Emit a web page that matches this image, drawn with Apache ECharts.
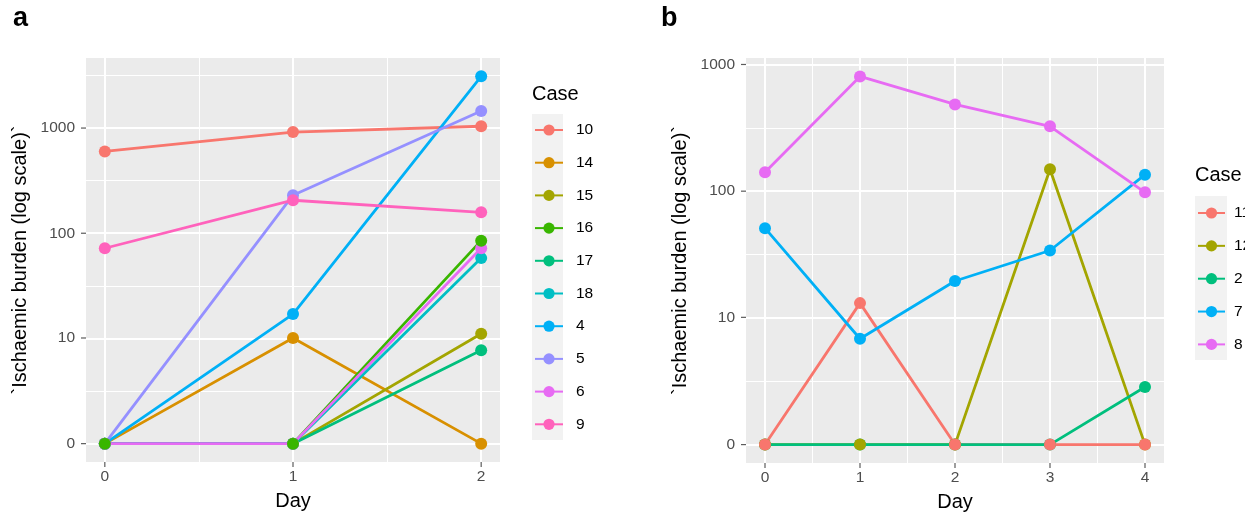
<!DOCTYPE html>
<html><head><meta charset="utf-8">
<script src="https://cdn.jsdelivr.net/npm/echarts@6/dist/echarts.min.js"></script>
<style>html,body{margin:0;padding:0;background:#fff}#c{width:1245px;height:519px}</style>
</head><body><div id="c"></div>
<script>
// ---- Panel a data ----
const daysA = [0, 1, 2];
const casesA = ['10', '14', '15', '16', '17', '18', '4', '5', '6', '9'];
const colorsA = ['#F8766D', '#D89000', '#A3A500', '#39B600', '#00BF7D', '#00BFC4', '#00B0F6', '#9590FF', '#E76BF3', '#FF62BC'];
const a10 = [600, 915, 1040];
const a14 = [0, 10, 0];
const a15 = [0, 0, 11];
const a16 = [0, 0, 85];
const a17 = [0, 0, 7.6];
const a18 = [0, 0, 58];
const a4  = [0, 17, 3100];
const a5  = [0, 230, 1450];
const a6  = [0, 0, 72];
const a9  = [72, 206, 158];
const valuesA = [a10, a14, a15, a16, a17, a18, a4, a5, a6, a9];
const lineOrderA  = ['10', '14', '15', '16', '17', '18', '4', '5', '9', '6'];
const pointOrderA = ['10', '14', '15', '17', '18', '4', '5', '6', '9', '16'];

// ---- Panel b data ----
const daysB = [0, 1, 2, 3, 4];
const casesB = ['11', '12', '2', '7', '8'];
const colorsB = ['#F8766D', '#A3A500', '#00BF7D', '#00B0F6', '#E76BF3'];
const b11 = [0, 13, 0, 0, 0];
const b12 = [0, 0, 0, 149, 0];
const b2  = [0, 0, 0, 0, 2.5];
const b7  = [51, 6.7, 19.5, 34, 135];
const b8  = [141, 805, 484, 325, 98];
const valuesB = [b11, b12, b2, b7, b8];
const lineOrderB  = ['11', '12', '7', '8', '2'];
const pointOrderB = ['2', '12', '7', '8', '11'];

// ---- axis ticks ----
const yTickValues = [0, 10, 100, 1000];
const yTickLabels = ['0', '10', '100', '1000'];
const xLabelName = 'Day';
const yLabelName = '`Ischaemic burden (log scale)`';

// pseudo-log scale (ggplot pseudo_log_trans, sigma = 1, base 10)
const pl = v => Math.asinh(v / 2) / Math.LN10;

const FONT = 'Liberation Sans, Arial, Helvetica, sans-serif';
const yTickT = yTickValues.map(pl);
const TICK_LEN = 5, TICK_W = 1.2, TICK_C = '#333333';

function yLabel(v) {
  let best = 0, bd = Infinity;
  yTickT.forEach((t, i) => { const d = Math.abs(t - v); if (d < bd) { bd = d; best = i; } });
  return yTickLabels[best];
}

function buildPanel(gi, days, cases, colors, values, lineOrder, pointOrder) {
  const xmin = Math.min(...days), xmax = Math.max(...days);
  const xe = (xmax - xmin) * 0.05;
  const xlo = xmin - xe, xhi = xmax + xe;
  let tmax = -Infinity, tmin = Infinity;
  values.forEach(arr => arr.forEach(v => { const t = pl(v); tmax = Math.max(tmax, t); tmin = Math.min(tmin, t); }));
  const ye = (tmax - tmin) * 0.05;
  const ylo = tmin - ye, yhi = tmax + ye;

  const xAxis = {
    gridIndex: gi, type: 'value', min: xlo, max: xhi,
    axisLine: { show: false }, splitLine: { show: false }, axisTick: { show: false },
    axisLabel: { customValues: days, margin: 7, color: '#4D4D4D', fontSize: 15.5, fontFamily: FONT, formatter: v => String(Math.round(v)) },
    name: xLabelName, nameLocation: 'middle', nameGap: 29,
    nameTextStyle: { color: '#000', fontSize: 20, fontFamily: FONT }
  };
  const yAxis = {
    gridIndex: gi, type: 'value', min: ylo, max: yhi,
    axisLine: { show: false }, splitLine: { show: false }, axisTick: { show: false },
    axisLabel: { customValues: yTickT, margin: 11, color: '#4D4D4D', fontSize: 15.5, fontFamily: FONT, formatter: v => yLabel(v) },
    name: yLabelName, nameLocation: 'middle', nameGap: 56,
    nameTextStyle: { color: '#000', fontSize: 20, fontFamily: FONT }
  };

  // grid lines (major at ticks, minor at midpoints in transformed space)
  const ml = [];
  const majorT = yTickT.filter(t => t >= ylo && t <= yhi);
  const minorT = [];
  for (let i = 0; i < yTickT.length; i++) {
    const next = i + 1 < yTickT.length ? yTickT[i + 1] : yTickT[i] + (yTickT[i] - yTickT[i - 1]);
    const prev = i > 0 ? yTickT[i - 1] : yTickT[0] - (yTickT[1] - yTickT[0]);
    if (i === 0) minorT.push((prev + yTickT[0]) / 2);
    minorT.push((yTickT[i] + next) / 2);
  }
  minorT.filter(t => t > ylo && t < yhi).forEach(t => ml.push({ yAxis: t, lineStyle: { color: '#fff', width: 1, type: 'solid' } }));
  majorT.forEach(t => ml.push({ yAxis: t, lineStyle: { color: '#fff', width: 2, type: 'solid' } }));
  for (let i = 0; i < days.length - 1; i++) {
    ml.push({ xAxis: (days[i] + days[i + 1]) / 2, lineStyle: { color: '#fff', width: 1, type: 'solid' } });
  }
  days.forEach(d => ml.push({ xAxis: d, lineStyle: { color: '#fff', width: 2, type: 'solid' } }));

  const series = [{
    type: 'line', xAxisIndex: gi, yAxisIndex: gi, data: [], z: 1, silent: true,
    markLine: { z: 1, silent: true, symbol: ['none', 'none'], animation: false, label: { show: false },
      emphasis: { disabled: true }, data: ml }
  }, {
    // x-axis tick marks, placed through the axes at the tick values
    type: 'scatter', xAxisIndex: gi, yAxisIndex: gi, silent: true, clip: false, z: 1,
    symbol: 'rect', symbolSize: [TICK_W, TICK_LEN], symbolOffset: [0, TICK_LEN / 2],
    itemStyle: { color: TICK_C }, data: days.map(d => [d, ylo])
  }, {
    // y-axis tick marks
    type: 'scatter', xAxisIndex: gi, yAxisIndex: gi, silent: true, clip: false, z: 1,
    symbol: 'rect', symbolSize: [TICK_LEN, TICK_W], symbolOffset: [-TICK_LEN / 2, 0],
    itemStyle: { color: TICK_C }, data: yTickT.map(t => [xlo, t])
  }];
  lineOrder.forEach(name => {
    const k = cases.indexOf(name);
    series.push({
      name, type: 'line', xAxisIndex: gi, yAxisIndex: gi, z: 2, symbol: 'none',
      color: colors[k], lineStyle: { width: 2.8, color: colors[k] }, itemStyle: { color: colors[k] },
      data: days.map((d, i) => [d, pl(values[k][i])]), animation: false
    });
  });
  pointOrder.forEach(name => {
    const k = cases.indexOf(name);
    series.push({
      name, type: 'scatter', xAxisIndex: gi, yAxisIndex: gi, z: 3, symbol: 'circle', symbolSize: 12,
      itemStyle: { color: colors[k], opacity: 1 },
      data: days.map((d, i) => [d, pl(values[k][i])]), animation: false
    });
  });
  return { xAxis, yAxis, series };
}

const pA = buildPanel(0, daysA, casesA, colorsA, valuesA, lineOrderA, pointOrderA);
const pB = buildPanel(1, daysB, casesB, colorsB, valuesB, lineOrderB, pointOrderB);

const legendText = { color: '#000', fontSize: 15.5, fontFamily: FONT };

const option = {
  animation: false,
  title: [
    { text: 'a', left: 13, top: 5, padding: 0, textStyle: { fontSize: 27, fontWeight: 'bold', color: '#000', fontFamily: FONT } },
    { text: 'b', left: 661, top: 5, padding: 0, textStyle: { fontSize: 27, fontWeight: 'bold', color: '#000', fontFamily: FONT } },
    { text: 'Case', left: 532, top: 84, padding: 0, textStyle: { fontSize: 20, fontWeight: 'normal', color: '#000', fontFamily: FONT } },
    { text: 'Case', left: 1195, top: 165, padding: 0, textStyle: { fontSize: 20, fontWeight: 'normal', color: '#000', fontFamily: FONT } }
  ],
  graphic: [
    { type: 'rect', left: 532, top: 114, z: -1, shape: { width: 31, height: 326 }, style: { fill: '#F2F2F2' }, silent: true },
    { type: 'rect', left: 1195, top: 196, z: -1, shape: { width: 32, height: 164 }, style: { fill: '#F2F2F2' }, silent: true }
  ],
  legend: [
    { data: casesA, orient: 'vertical', left: 534, top: 122, padding: 0, itemWidth: 28, itemHeight: 14, itemGap: 16.7,
      textStyle: Object.assign({ padding: [0, 0, 0, 8] }, legendText), selectedMode: false },
    { data: casesB, orient: 'vertical', left: 1197, top: 205, padding: 0, itemWidth: 27, itemHeight: 14, itemGap: 16.85,
      textStyle: Object.assign({ padding: [0, 0, 0, 4] }, legendText), selectedMode: false }
  ],
  grid: [
    { left: 86, top: 58, width: 414, height: 404, show: true, backgroundColor: '#EBEBEB', borderWidth: 0 },
    { left: 746, top: 58, width: 418, height: 405, show: true, backgroundColor: '#EBEBEB', borderWidth: 0 }
  ],
  xAxis: [pA.xAxis, pB.xAxis],
  yAxis: [pA.yAxis, pB.yAxis],
  series: pA.series.concat(pB.series)
};

const chart = echarts.init(document.getElementById('c'), null, { renderer: 'canvas' });
chart.setOption(option);
</script>
</body></html>
